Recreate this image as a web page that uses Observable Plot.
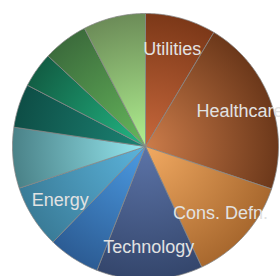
<!DOCTYPE html>
<html>
<head>
<meta charset="utf-8">
<script src="https://cdn.jsdelivr.net/npm/d3@7"></script>
<script src="https://cdn.jsdelivr.net/npm/@observablehq/plot@0.6"></script>
<style>
  html, body { margin: 0; padding: 0; overflow: hidden; background: #fff; }
  #chart svg { overflow: hidden; }
</style>
</head>
<body>
<div id="chart"></div>
<script>
// Sectors in clockwise order from 12 o'clock
const sectors = ["s1", "s2", "s3", "s4", "s5", "s6", "s7", "s8", "s9", "s10", "s11"];
const labels = ["Utilities", "Healthcare", "Cons. Defn.", "Technology", "", "Energy", "", "", "", "", ""];
const shares = [8.6, 21.6, 12.9, 12.9, 6.3, 7.7, 7.4, 5.3, 4.3, 5.5, 7.6];

// Palette: colour near the centre and at the rim of each slice
const innerColors = ["#c8683c", "#cc7c4a", "#f2aa62", "#5c74a8", "#4c9ce4", "#5cb4dc", "#96e8f0", "#1c8474", "#22b884", "#66b85c", "#b0f090"];
const outerColors = ["#7c3818", "#6c381a", "#a8682e", "#34466c", "#2c5c94", "#3a7c98", "#4a8288", "#0e4e46", "#125e44", "#3c6c3c", "#6c8c58"];

const total = d3.sum(shares);
let acc = 0;
const slices = sectors.map((s, i) => {
  const a0 = acc / total * 2 * Math.PI;
  acc += shares[i];
  const a1 = acc / total * 2 * Math.PI;
  return {sector: s, label: labels[i], a0, a1, mid: (a0 + a1) / 2, i};
});

function slicePoints(s) {
  const pts = [{x: 0, y: 0}];
  const n = Math.max(2, Math.ceil((s.a1 - s.a0) / (Math.PI / 360)));
  for (let k = 0; k <= n; k++) {
    const a = s.a0 + (s.a1 - s.a0) * k / n;
    pts.push({x: Math.sin(a), y: Math.cos(a)});
  }
  pts.push({x: 0, y: 0});
  return pts;
}

const cx = 145, cy = 146, R = 133;
const labelR = 0.757;

const marks = slices.map(s => Plot.line(slicePoints(s), {
  x: "x", y: "y",
  fill: `url(#grad${s.i})`,
  stroke: "#858585",
  strokeWidth: 0.8,
  strokeLinejoin: "round"
}));

marks.push(Plot.text(slices.filter(s => s.label), {
  x: d => labelR * Math.sin(d.mid),
  y: d => labelR * Math.cos(d.mid),
  text: "label",
  fill: "#e2e2e2",
  fontSize: 18,
  fontFamily: "Liberation Sans, Arial, sans-serif"
}));

const plot = Plot.plot({
  width: 280,
  height: 276,
  margin: 0,
  x: {domain: [-1, 1], range: [cx - R, cx + R], axis: null},
  y: {domain: [-1, 1], range: [cy + R, cy - R], axis: null},
  style: {background: "#fff"},
  marks
});

// radial gradients centred on the pie centre (through the plot's scales)
const xs = plot.scale("x"), ys = plot.scale("y");
const pcx = xs.apply(0), pcy = ys.apply(0), pr = xs.apply(1) - xs.apply(0);
const svg = d3.select(plot);
const defs = svg.insert("defs", ":first-child");
slices.forEach(s => {
  const g = defs.append("radialGradient")
    .attr("id", `grad${s.i}`)
    .attr("gradientUnits", "userSpaceOnUse")
    .attr("cx", pcx).attr("cy", pcy).attr("r", pr);
  g.append("stop").attr("offset", "0").attr("stop-color", innerColors[s.i]);
  g.append("stop").attr("offset", "1").attr("stop-color", outerColors[s.i]);
});

document.getElementById("chart").appendChild(plot);
</script>
</body>
</html>
